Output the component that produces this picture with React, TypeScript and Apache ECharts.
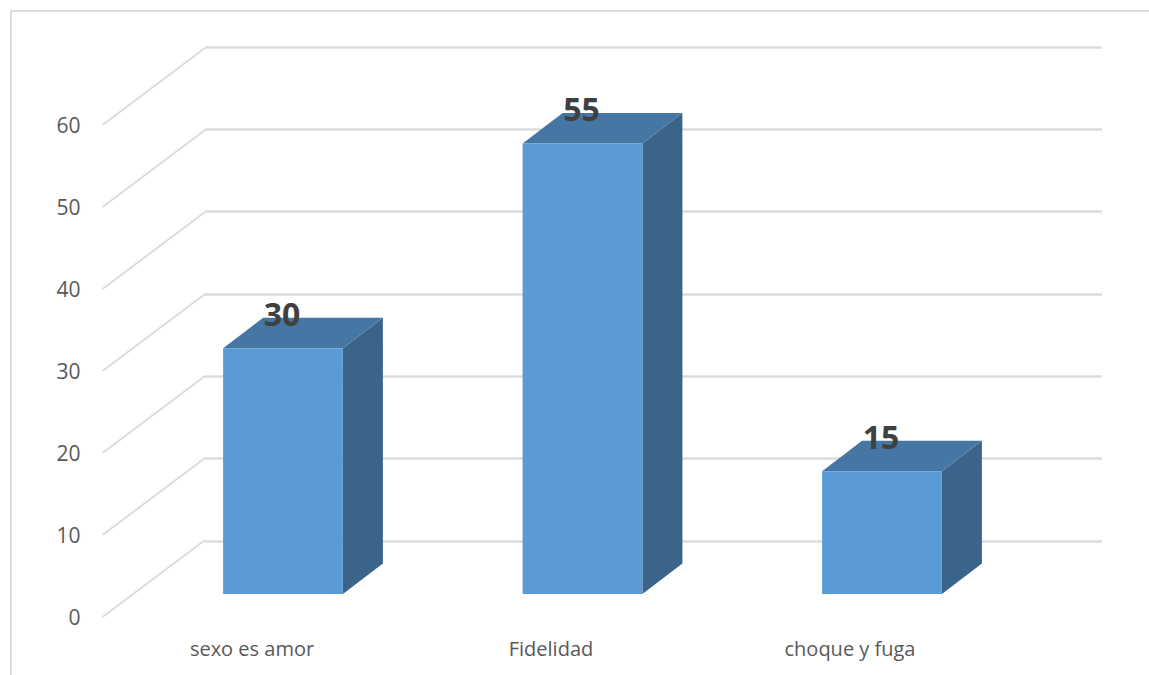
import React, { useEffect, useRef } from "react";
import * as echarts from "echarts";

const categories = ["sexo es amor", "Fidelidad", "choque y fuga"];
const values = [30, 55, 15];
const ticks = [0, 10, 20, 30, 40, 50, 60];

const FONT = "'Open Sans', sans-serif";
const GRID_COLOR = "#DCDCDC";
const FRONT = "#5B9BD5";
const TOP = "#4676A3";
const SIDE = "#3A6489";

export default function App() {
  const ref = useRef<HTMLDivElement>(null);
  useEffect(() => {
    document.body.style.margin = "0";
    const chart = echarts.init(ref.current!, undefined, { renderer: "svg" });
    const valueAxisBase = { type: "value", min: 0, max: 60, interval: 10 };
    chart.setOption({
      animation: false,
      backgroundColor: "#FFFFFF",
      grid: [
        { left: 102.5, top: 125, width: 897, height: 492 },
        { left: 133.25, top: 102.5, width: 898.5, height: 491.5 },
        { left: 205, top: 47, width: 897, height: 494 },
      ],
      xAxis: [
        {
          type: "category",
          gridIndex: 0,
          data: categories,
          axisLine: { show: false },
          axisTick: { show: false },
          axisLabel: { color: "#595959", fontFamily: FONT, fontSize: 20, margin: 21 },
        },
        { type: "category", gridIndex: 1, data: categories, show: false },
        { type: "category", gridIndex: 2, data: categories, show: false },
      ],
      yAxis: [
        {
          ...valueAxisBase,
          gridIndex: 0,
          axisLine: { show: false },
          axisTick: { show: false },
          splitLine: { show: false },
          axisLabel: { color: "#595959", fontFamily: FONT, fontSize: 21, margin: 22 },
        },
        { ...valueAxisBase, gridIndex: 1, show: false, splitLine: { show: false } },
        {
          ...valueAxisBase,
          gridIndex: 2,
          axisLine: { show: false },
          axisTick: { show: false },
          axisLabel: { show: false },
          splitLine: { show: true, lineStyle: { color: GRID_COLOR, width: 2.5 } },
        },
      ],
      graphic: [
        {
          type: "rect",
          silent: true,
          z: -1,
          shape: { x: 11, y: 11, width: 1300, height: 800 },
          style: { fill: "none", stroke: GRID_COLOR, lineWidth: 2 },
        },
      ],
      series: [
        {
          type: "custom",
          name: "floor",
          xAxisIndex: 0,
          yAxisIndex: 0,
          silent: true,
          clip: false,
          z: 1,
          encode: { y: 0 },
          data: ticks.map((t) => [t]),
          renderItem: (params: any, api: any) => {
            const y = api.coord([0, api.value(0)])[1];
            const x = params.coordSys.x;
            return {
              type: "line",
              shape: { x1: x, y1: y, x2: x + 102.5, y2: y - 77 },
              style: { stroke: GRID_COLOR, lineWidth: 2, fill: "none" },
            };
          },
        },
        {
          type: "custom",
          name: "bars",
          xAxisIndex: 1,
          yAxisIndex: 1,
          silent: true,
          clip: false,
          z: 2,
          encode: { x: 0, y: 1 },
          data: values.map((v, i) => [i, v]),
          renderItem: (_params: any, api: any) => {
            const idx = api.value(0);
            const val = api.value(1);
            const [cx, yTop] = api.coord([idx, val]);
            const [, yBase] = api.coord([idx, 0]);
            const w = api.size([1, 0])[0] * 0.4;
            const dx = 40;
            const dy = 30.5;
            const l = cx - w / 2;
            const r = cx + w / 2;
            return {
              type: "group",
              children: [
                {
                  type: "polygon",
                  shape: { points: [[r, yTop], [r + dx, yTop - dy], [r + dx, yBase - dy], [r, yBase]] },
                  style: { fill: SIDE },
                },
                {
                  type: "polygon",
                  shape: { points: [[l, yTop], [l + dx, yTop - dy], [r + dx, yTop - dy], [r, yTop]] },
                  style: { fill: TOP },
                },
                {
                  type: "rect",
                  shape: { x: l, y: yTop, width: w, height: yBase - yTop },
                  style: { fill: FRONT },
                },
                {
                  type: "text",
                  x: cx - 1,
                  y: yTop - 35,
                  style: {
                    text: String(val),
                    fill: "#404040",
                    font: `bold 32px ${FONT}`,
                    align: "center",
                    verticalAlign: "middle",
                  },
                },
              ],
            };
          },
        },
      ],
    });
    return () => chart.dispose();
  }, []);
  return <div ref={ref} style={{ width: 1149, height: 675 }} />;
}
